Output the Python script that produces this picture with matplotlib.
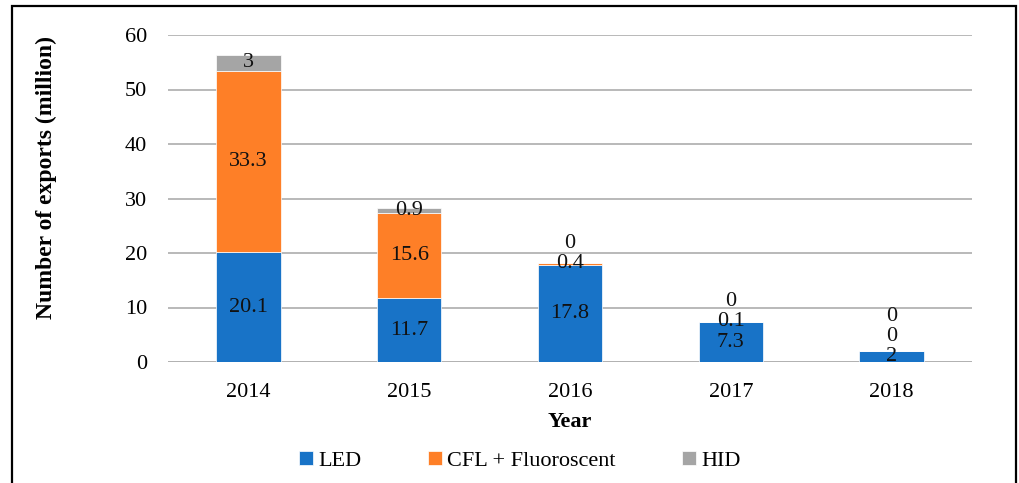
import matplotlib.pyplot as plt
import numpy as np
from matplotlib.patches import Rectangle

years = ["2014", "2015", "2016", "2017", "2018"]
led = [20.1, 11.7, 17.8, 7.3, 2]
cfl = [33.3, 15.6, 0.4, 0.1, 0]
hid = [3, 0.9, 0, 0, 0]

series = [("LED", led, "#1873C7"), ("CFL + Fluoroscent", cfl, "#FE7F27"), ("HID", hid, "#A5A5A5")]

plt.rcParams["font.family"] = ["Liberation Serif", "DejaVu Serif"]
FS = 16

fig = plt.figure(figsize=(10.2, 4.83), dpi=100)
ax = fig.add_axes([168 / 1020, 1 - 362 / 483, 804 / 1020, 327 / 483])

x = np.arange(len(years))
bottom = np.zeros(len(years))
last_label = np.full(len(years), -10.0)
for name, vals, color in series:
    vals = np.array(vals, dtype=float)
    ax.bar(x, vals, 0.4, bottom=bottom, color=color, edgecolor="white", linewidth=0.5,
           label=name, zorder=3)
    # data labels in the middle of each segment, pushed up when they would collide
    for i, v in enumerate(vals):
        y = max(bottom[i] + v / 2, last_label[i] + 3.7)
        last_label[i] = y
        ax.text(x[i], y, f"{v:g}", ha="center", va="center", fontsize=FS, color="#111111", zorder=4)
    bottom += vals

ax.set_xlim(-0.5, len(years) - 0.5)
ax.set_ylim(0, 60)
ax.set_yticks(range(0, 61, 10))
ax.set_xticks(x)
ax.set_xticklabels(years)
ax.grid(axis="y", color="#A6A6A6", linewidth=1.1, zorder=0)
ax.axhline(0, color="#D9D9D9", linewidth=2, zorder=1)
for s in ax.spines.values():
    s.set_visible(False)
ax.tick_params(axis="both", length=0, labelsize=FS)
ax.tick_params(axis="y", pad=15)
ax.tick_params(axis="x", pad=15)
ax.set_xlabel("Year", fontsize=FS, fontweight="bold", labelpad=7)
ax.set_ylabel("Number of exports (million)", fontsize=FS + 1, fontweight="bold")
ax.yaxis.set_label_coords(-0.138, 0.563)

fig.legend(loc="center", bbox_to_anchor=(520 / 1020, 1 - 461 / 483), ncol=3, frameon=False,
           fontsize=FS, handlelength=0.62, handleheight=0.62, handletextpad=0.25,
           columnspacing=3.0)

fig.patches.append(Rectangle((12 / 1020, -0.05), 1004 / 1020, 1.05 - 6 / 483,
                             transform=fig.transFigure, fill=False, edgecolor="black",
                             linewidth=1.6))

fig.savefig("out.png", dpi=100)
